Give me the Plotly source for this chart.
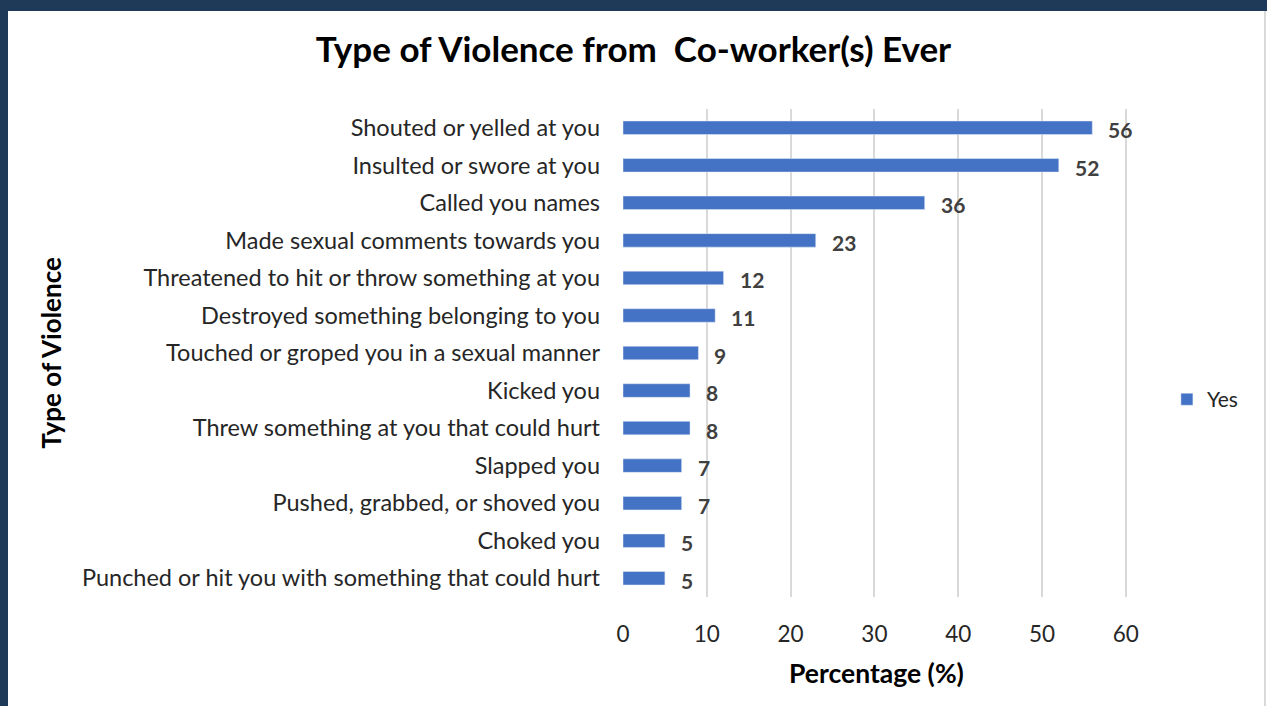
import plotly.graph_objects as go

categories = [
    "Shouted or yelled at you",
    "Insulted or swore at you",
    "Called you names",
    "Made sexual comments towards you",
    "Threatened to hit or throw something at you",
    "Destroyed something belonging to you",
    "Touched or groped you in a sexual manner",
    "Kicked you",
    "Threw something at you that could hurt",
    "Slapped you",
    "Pushed, grabbed, or shoved you",
    "Choked you",
    "Punched or hit you with something that could hurt",
]
yes_values = [56, 52, 36, 23, 12, 11, 9, 8, 8, 7, 7, 5, 5]
x_ticks = [0, 10, 20, 30, 40, 50, 60]

FONT = "Lato, 'Open Sans', sans-serif"
BAR = "#4472C4"
NAVY = "#1E3A58"

fig = go.Figure()
fig.add_trace(go.Bar(
    y=categories, x=yes_values, orientation="h", name="Yes",
    marker=dict(color=BAR), width=0.36,
))

for c, v in zip(categories, yes_values):
    fig.add_annotation(x=v, y=c, text=f"<b>{v}</b>", showarrow=False,
                       xanchor="left", xshift=14, yshift=-2,
                       font=dict(family=FONT, size=21, color="#404040"))

# frame, sized in pixels from the plot's left edge
fig.add_shape(type="rect", xref="paper", yref="paper",
              xsizemode="pixel", xanchor=0, x0=-2000, x1=2000,
              y0=1.2008, y1=1.3,
              fillcolor=NAVY, line=dict(width=0), layer="above")
fig.add_shape(type="rect", xref="paper", yref="paper",
              xsizemode="pixel", xanchor=0, x0=-800, x1=-615,
              y0=-0.3, y1=1.3,
              fillcolor=NAVY, line=dict(width=0), layer="above")
fig.add_shape(type="line", xref="paper", yref="paper",
              xsizemode="pixel", xanchor=0, x0=642, x1=642,
              y0=-0.3, y1=1.2008,
              line=dict(color="#D9D9D9", width=2), layer="above")

fig.update_layout(
    width=1267, height=706,
    margin=dict(l=623, r=137, t=109, b=109),
    paper_bgcolor="white", plot_bgcolor="white",
    title=dict(text="<b>Type of Violence from  Co-worker(s) Ever</b>",
               x=0.5, xanchor="center", y=0.929, yanchor="middle",
               font=dict(family=FONT, size=35, color="#000000")),
    font=dict(family=FONT, size=21, color="#262626"),
    showlegend=True,
    legend=dict(xref="container", yref="container", x=0.921, y=0.434,
                xanchor="left", yanchor="middle",
                font=dict(family=FONT, size=21, color="#262626"),
                itemwidth=30),
    bargap=0.64,
)
fig.update_xaxes(range=[0, 60.5], tickvals=x_ticks, showgrid=True,
                 gridcolor="#D9D9D9", gridwidth=2, zeroline=False,
                 showline=False, ticks="", ticklabelstandoff=21,
                 tickfont=dict(family=FONT, size=22.5, color="#262626"),
                 title=dict(text="<b>Percentage (%)</b>", standoff=18,
                            font=dict(family=FONT, size=26.5, color="#000000")))
fig.update_yaxes(categoryorder="array", categoryarray=categories,
                 autorange="reversed", showgrid=False, showline=False,
                 ticks="", ticklabelstandoff=22,
                 tickfont=dict(family=FONT, size=23.5, color="#262626"),
                 title=dict(text="<b>Type of Violence</b>", standoff=12,
                            font=dict(family=FONT, size=26, color="#000000")))

fig.write_html("out.html", config={"displayModeBar": False},
               post_script="document.body.style.margin='0';document.body.style.overflow='hidden';")
